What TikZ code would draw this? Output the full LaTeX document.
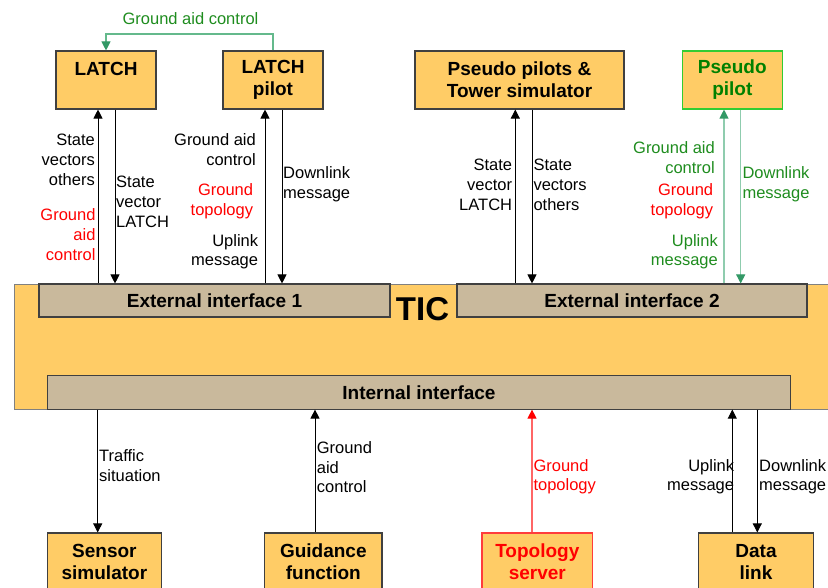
\documentclass[tikz,border=0pt]{standalone}
\usepackage{fontspec}
\setmainfont{Liberation Sans}
\usetikzlibrary{arrows.meta}

\definecolor{boxfill}{RGB}{255,204,102}
\definecolor{ifacefill}{RGB}{201,185,156}
\definecolor{boxline}{RGB}{64,64,64}
\definecolor{ticline}{RGB}{128,128,128}
\definecolor{lblgreen}{RGB}{30,140,30}
\definecolor{darkgreen}{RGB}{0,128,0}
\definecolor{brightgreen}{RGB}{51,204,51}
\definecolor{linegreen}{RGB}{143,204,174}
\definecolor{headgreen}{RGB}{51,153,102}
\definecolor{toplinegreen}{RGB}{100,185,140}
\definecolor{lblred}{RGB}{255,0,0}
\definecolor{linered}{RGB}{255,102,102}
\definecolor{boxred}{RGB}{255,60,60}

\begin{document}
\begin{tikzpicture}[x=1pt,y=-1pt,
  unit/.style={draw=boxline, line width=1.1pt, fill=boxfill, inner sep=0pt,
    align=center, font=\bfseries\fontsize{19}{22}\selectfont, minimum height=58pt},
  iface/.style={draw=boxline, line width=1.1pt, fill=ifacefill, inner sep=0pt,
    font=\bfseries\fontsize{19}{22}\selectfont},
  ticarea/.style={draw=ticline, line width=0.8pt, fill=boxfill, inner sep=0pt},
  lbl/.style={inner sep=0pt, font=\fontsize{16.5}{19.7}\selectfont},
  % multi-line labels: the base anchor sits on the last line
  lblr/.style={lbl, align=right, anchor=base east},
  lbll/.style={lbl, align=left, anchor=base west},
  arr/.style={line width=0.9pt, -{Triangle[length=9pt,width=9pt]}},
  garr/.style={line width=1.1pt, draw=linegreen, -{Triangle[length=9pt,width=9pt,color=headgreen]}},
  rarr/.style={line width=1.1pt, draw=linered, -{Triangle[length=9pt,width=9pt,color=lblred]}}
]
\useasboundingbox (0,0) rectangle (828,588);

% TIC core with its interfaces
\node[ticarea, minimum width=836pt, minimum height=125pt] (tic) at (432,346.5) {};
\node[iface, minimum width=351pt, minimum height=33pt] (ext1) at (214.5,300.5) {External interface 1};
\node[iface, minimum width=350pt, minimum height=33pt] (ext2) at (632,300.5) {External interface 2};
\node[iface, minimum width=743pt, minimum height=33.5pt] (int) at (419,392.3) {Internal interface};
\node[inner sep=0pt, anchor=base, font=\bfseries\fontsize{33}{33}\selectfont] (ticname) at (422.5,320.7) {TIC};

% external units
\node[unit, minimum width=100pt] (latch) at (106,80) {LATCH\\\mbox{}};
\node[unit, minimum width=100pt] (lpilot) at (273,80) {LATCH\\pilot};
\node[unit, minimum width=209pt] (tower) at (519.5,80) {Pseudo pilots \&\\Tower simulator};
\node[unit, minimum width=99.5pt, draw=brightgreen, text=darkgreen] (ppilot) at (732.3,80) {Pseudo\\pilot};

% internal units
\node[unit, minimum width=114pt] (sensor) at (104.4,562) {Sensor\\simulator};
\node[unit, minimum width=117.3pt] (guide) at (323.3,562) {Guidance\\function};
\node[unit, minimum width=110.7pt, draw=boxred, text=lblred] (topo) at (537.3,562) {Topology\\server};
\node[unit, minimum width=114.6pt] (dlink) at (756,562) {Data\\link};

% ground aid control from LATCH pilot to LATCH
\coordinate (gacR) at (273,34);
\coordinate (gacL) at (106,34);
\draw[line width=1.1pt, draw=toplinegreen, -{Triangle[length=9pt,width=9pt,color=headgreen]}]
  (lpilot.north) -- (gacR) -- (gacL) -- (latch.north);
\node[lbl, anchor=base, text=lblgreen] (gaclbl) at (190.5,25) {Ground aid control};

% LATCH
\draw[arr] (ext1.north -| 98,0) -- (latch.south -| 98,0);
\draw[arr] (latch.south -| 115,0) -- (ext1.north -| 115,0);
\node[lblr] (l1) at (95,185.1) {State\\vectors\\others};
\node[lblr, text=lblred] (l2) at (95.7,260.1) {Ground\\aid\\control};
\node[lbll] (l3) at (116,227.1) {State\\vector\\LATCH};

% LATCH pilot
\draw[arr] (ext1.north -| 265,0) -- (lpilot.south -| 265,0);
\draw[arr] (lpilot.south -| 282,0) -- (ext1.north -| 282,0);
\node[lblr] (p1) at (256,165.4) {Ground aid\\control};
\node[lblr, text=lblred] (p2) at (253.3,215.7) {Ground\\topology};
\node[lblr] (p3) at (258.3,265.7) {Uplink\\message};
\node[lbll] (p4) at (283,198.4) {Downlink\\message};

% pseudo pilots and tower simulator
\draw[arr] (ext2.north -| 515.3,0) -- (tower.south -| 515.3,0);
\draw[arr] (tower.south -| 532,0) -- (ext2.north -| 532,0);
\node[lblr] (t1) at (512.3,210.4) {State\\vector\\LATCH};
\node[lbll] (t2) at (533.3,210.4) {State\\vectors\\others};

% pseudo pilot
\draw[garr] (ext2.north -| 724,0) -- (ppilot.south -| 724,0);
\draw[garr] (ppilot.south -| 740.7,0) -- (ext2.north -| 740.7,0);
\node[lblr, text=lblgreen] (q1) at (715,173.7) {Ground aid\\control};
\node[lblr, text=lblred] (q2) at (713.3,215.7) {Ground\\topology};
\node[lblr, text=lblgreen] (q3) at (718,265.7) {Uplink\\message};
\node[lbll, text=lblgreen] (q4) at (742.3,198.4) {Downlink\\message};

% sensor simulator
\draw[arr] (int.south -| 97.7,0) -- (sensor.north -| 97.7,0);
\node[lbll] (s1) at (99,481.4) {Traffic\\situation};

% guidance function
\draw[arr] (guide.north -| 315,0) -- (int.south -| 315,0);
\node[lbll] (g1) at (316.7,492.7) {Ground\\aid\\control};

% topology server
\draw[rarr] (topo.north -| 532,0) -- (int.south -| 532,0);
\node[lbll, text=lblred] (o1) at (533.3,490.7) {Ground\\topology};

% data link
\draw[arr] (dlink.north -| 732.3,0) -- (int.south -| 732.3,0);
\draw[arr] (int.south -| 757.3,0) -- (dlink.north -| 757.3,0);
\node[lblr] (d1) at (734.3,490.7) {Uplink\\message};
\node[lbll] (d2) at (759,490.7) {Downlink\\message};
\end{tikzpicture}
\end{document}
